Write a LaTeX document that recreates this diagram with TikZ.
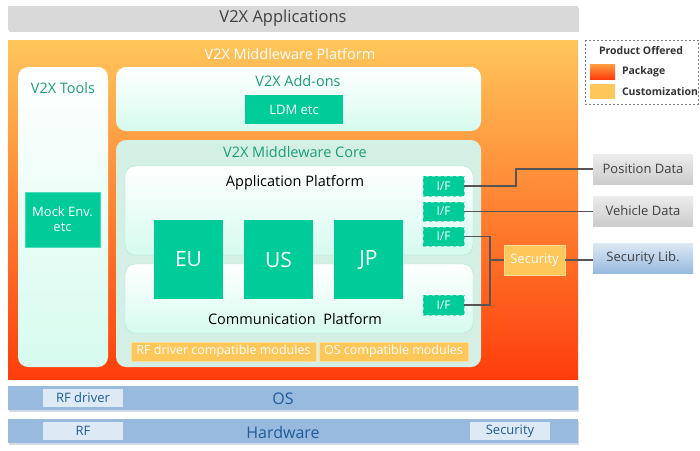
\documentclass[tikz,border=0pt]{standalone}
\usepackage{fontspec}
\setmainfont{Open Sans}
\usetikzlibrary{shadows}
\definecolor{grn}{HTML}{00CC99}
\definecolor{grntxt}{HTML}{1A9E78}
\definecolor{mint}{HTML}{D6FBEE}
\definecolor{coremint}{HTML}{D4EFE3}
\definecolor{orgtop}{HTML}{FFC65A}
\definecolor{orgbot}{HTML}{FF3D0A}
\definecolor{cust}{HTML}{FFC65A}
\definecolor{osblue}{HTML}{97BADE}
\definecolor{lblue}{HTML}{DDE9F5}
\definecolor{dblue}{HTML}{1F5C99}
\definecolor{wire}{HTML}{555555}
\tikzset{
  every node/.style={inner sep=0pt, outer sep=0pt},
  mintbox/.style={rounded corners=10pt, top color=white, bottom color=mint},
  grnbox/.style={fill=grn, text=white},
  ifbox/.style={fill=grn, draw=grn!60!white, dashed, text=white, font=\fontsize{12}{12}\selectfont},
  custbox/.style={fill=cust, draw=orgtop!60!white, text=white},
  graybox/.style={top color=gray!15, bottom color=gray!40, text=black!75, font=\fontsize{13}{13}\selectfont},
  bluebar/.style={fill=osblue, drop shadow={shadow xshift=1pt, shadow yshift=-1.5pt, fill=osblue!60!gray, opacity=0.4}},
  wireline/.style={draw=wire, line width=1.3pt},
}
\begin{document}
\begin{tikzpicture}[x=1pt,y=-1pt]
\useasboundingbox (0,0) rectangle (700,450);
% applications
\fill[gray!30, drop shadow={shadow xshift=1pt, shadow yshift=-1.5pt, opacity=0.3}] (8,6) rectangle (578,30);
\node[text=black!75, font=\fontsize{16.5}{16.5}\selectfont] (apps) at (283,18) {V2X Applications};
% platform
\shade[top color=orgtop, bottom color=orgbot] (8,40) rectangle (578,379);
\node[text=white, font=\fontsize{14.5}{14.5}\selectfont] (plat) at (290,54) {V2X Middleware Platform};
% tools
\shade[mintbox] (18,67) rectangle (108,367);
\node[text=grntxt, font=\fontsize{14.5}{14.5}\selectfont] (tools) at (63,88) {V2X Tools};
\node[grnbox, draw=grn!70!white, minimum width=75pt, minimum height=55pt, align=center, font=\fontsize{13}{15}\selectfont] (mock) at (62.5,219.5) {Mock Env.\\etc};
% add-ons
\shade[mintbox] (116,67) rectangle (481,131);
\node[text=grntxt, font=\fontsize{14.5}{14.5}\selectfont] (addons) at (298,81) {V2X Add-ons};
\node[grnbox, minimum width=98pt, minimum height=29pt, font=\fontsize{13}{13}\selectfont] (ldm) at (294,109.5) {LDM etc};
% core
\fill[coremint, rounded corners=10pt] (116,140) rectangle (481,367);
\node[text=grntxt, font=\fontsize{14.5}{14.5}\selectfont] (core) at (295,152) {V2X Middleware Core};
\shade[mintbox, draw=coremint!80!grn] (125,166) rectangle (473,255);
\node[text=black, font=\fontsize{14.5}{14.5}\selectfont] (appplat) at (295,183) {Application Platform};
\shade[mintbox, draw=coremint!80!grn] (125,264) rectangle (473,333);
\node[text=black, font=\fontsize{14.5}{14.5}\selectfont] (complat) at (295,319) {Communication\ \ Platform};
\foreach \n/\x in {EU/188.5, US/278.5, JP/368.5}
  \node[grnbox, minimum width=69pt, minimum height=79pt, font=\fontsize{21}{21}\selectfont] (\n) at (\x,259.5) {\n};
\node[ifbox, minimum width=41pt, minimum height=20pt] (if1) at (443.5,186) {I/F};
\node[ifbox, minimum width=41pt, minimum height=19pt] (if2) at (443.5,211.5) {I/F};
\node[ifbox, minimum width=41pt, minimum height=19pt] (if3) at (443.5,236.5) {I/F};
\node[ifbox, minimum width=41pt, minimum height=20pt] (if4) at (443.5,305) {I/F};
\node[custbox, minimum width=185pt, minimum height=19pt, font=\fontsize{12.5}{12.5}\selectfont] (rfmod) at (223.5,351.5) {RF driver compatible modules};
\node[custbox, minimum width=149pt, minimum height=19pt, font=\fontsize{12.5}{12.5}\selectfont] (osmod) at (393.5,351.5) {OS compatible modules};
% security
\node[custbox, minimum width=61pt, minimum height=30pt, font=\fontsize{13}{13}\selectfont] (sec) at (534.5,260) {Security};
% external
\node[graybox, minimum width=100pt, minimum height=30pt] (pos) at (643,169) {Position Data};
\node[graybox, minimum width=100pt, minimum height=30pt] (veh) at (643,211) {Vehicle Data};
\node[top color=lblue, bottom color=osblue, text=black!75, font=\fontsize{13}{13}\selectfont, minimum width=100pt, minimum height=30pt] (seclib) at (643,258) {Security Lib.};
% connectors
\coordinate (j1) at (516,0);
\coordinate (j3) at (490,0);
\draw[wireline] (if1.east) -- (if1.east -| j1) |- (pos.west);
\draw[wireline] (if2.east) -- (if2.east -| veh.west);
\draw[wireline] (if3.east) -- (if3.east -| j3) |- (if4.east);
\draw[wireline] (sec.west -| j3) -- (sec.west);
\draw[wireline] (sec.east) -- (sec.east -| seclib.west);
% legend
\draw[gray, line width=0.8pt, dash pattern=on 2pt off 2pt] (585,40) rectangle (698,104);
\node[font=\bfseries\fontsize{10.5}{10.5}\selectfont, text=black!80] (lt) at (641,51) {Product Offered};
\shade[top color=orgtop!70!orgbot, bottom color=orgbot] (590,64) rectangle (615,79);
\node[anchor=west, font=\bfseries\fontsize{10.5}{10.5}\selectfont, text=black!80] (lp) at (622,71.5) {Package};
\fill[cust] (590,84) rectangle (615,99);
\node[anchor=west, font=\bfseries\fontsize{10.5}{10.5}\selectfont, text=black!80] (lc) at (622,91.5) {Customization};
% OS
\fill[bluebar] (8,386) rectangle (578,410);
\node[fill=lblue, minimum width=80pt, minimum height=18pt, text=dblue, font=\fontsize{13}{13}\selectfont] (rfd) at (83,398) {RF driver};
\node[text=dblue, font=\fontsize{16}{16}\selectfont] (os) at (283,399) {OS};
% Hardware
\fill[bluebar] (8,419) rectangle (578,443);
\node[fill=lblue, minimum width=80pt, minimum height=18pt, text=dblue, font=\fontsize{13}{13}\selectfont] (rf) at (83,431) {RF};
\node[fill=lblue, minimum width=80pt, minimum height=18pt, text=dblue, font=\fontsize{13}{13}\selectfont] (hsec) at (510,431) {Security};
\node[text=dblue, font=\fontsize{16}{16}\selectfont] (hw) at (283,432) {Hardware};
\end{tikzpicture}
\end{document}
